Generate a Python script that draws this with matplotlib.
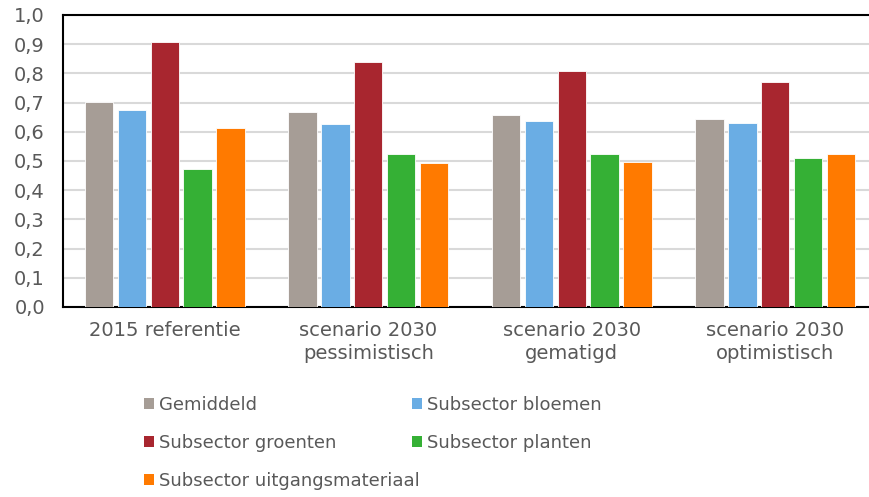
import matplotlib.pyplot as plt
import numpy as np
from matplotlib.patches import Patch
from matplotlib.ticker import FuncFormatter

# categorieen en waarden
categories = ['2015 referentie', 'scenario 2030\npessimistisch',
              'scenario 2030\ngematigd', 'scenario 2030\noptimistisch']
series_names = ['Gemiddeld', 'Subsector bloemen', 'Subsector groenten',
                'Subsector planten', 'Subsector uitgangsmateriaal']
gemiddeld = [0.701, 0.669, 0.656, 0.644]
bloemen = [0.676, 0.626, 0.637, 0.631]
groenten = [0.909, 0.839, 0.808, 0.771]
planten = [0.473, 0.524, 0.524, 0.511]
uitgangsmateriaal = [0.612, 0.492, 0.498, 0.524]
colors = ['#A69D96', '#6AADE4', '#A8262F', '#35B035', '#FF7A00']

text_color = '#595959'
plt.rcParams['font.family'] = ['DejaVu Sans']

fig = plt.figure(figsize=(8.69, 4.97), dpi=100)
ax = fig.add_axes([63 / 869, 1 - 307 / 497, 814 / 869, 292 / 497])

x = np.arange(len(categories))
step = 0.162
width = 0.14
all_series = [gemiddeld, bloemen, groenten, planten, uitgangsmateriaal]
for i, vals in enumerate(all_series):
    ax.bar(x + (i - 2) * step, vals, width=width, color=colors[i],
           edgecolor='white', linewidth=0.6, label=series_names[i], zorder=3)

ax.set_xlim(-0.5, len(categories) - 0.5)
ax.set_ylim(0, 1.0)
ax.set_yticks(np.arange(0, 1.01, 0.1))
ax.yaxis.set_major_formatter(FuncFormatter(lambda v, p: f'{v:.1f}'.replace('.', ',')))
ax.set_xticks(x)
ax.set_xticklabels(categories, linespacing=1.25)
ax.tick_params(axis='both', length=0, labelsize=14, colors=text_color)
ax.tick_params(axis='y', pad=13)
ax.tick_params(axis='x', pad=10)
ax.yaxis.grid(True, color='#D9D9D9', linewidth=1.5, zorder=0)
ax.set_axisbelow(True)
for side in ['left', 'bottom', 'top']:
    ax.spines[side].set_color('black')
    ax.spines[side].set_linewidth(1.5)
ax.spines['right'].set_visible(False)

handles = [Patch(facecolor=c, edgecolor='none') for c in colors]
order = [0, 2, 4, 1, 3]
leg = fig.legend([handles[i] for i in order], [series_names[i] for i in order],
                 ncol=2, loc='upper left', bbox_to_anchor=(144 / 869, 1 - 396 / 497),
                 frameon=False, fontsize=13, handlelength=0.55, handleheight=0.55,
                 handletextpad=0.3, columnspacing=-0.45, labelspacing=1.1,
                 borderaxespad=0, borderpad=0)
for t in leg.get_texts():
    t.set_color(text_color)

fig.savefig('out.png', dpi=100)
